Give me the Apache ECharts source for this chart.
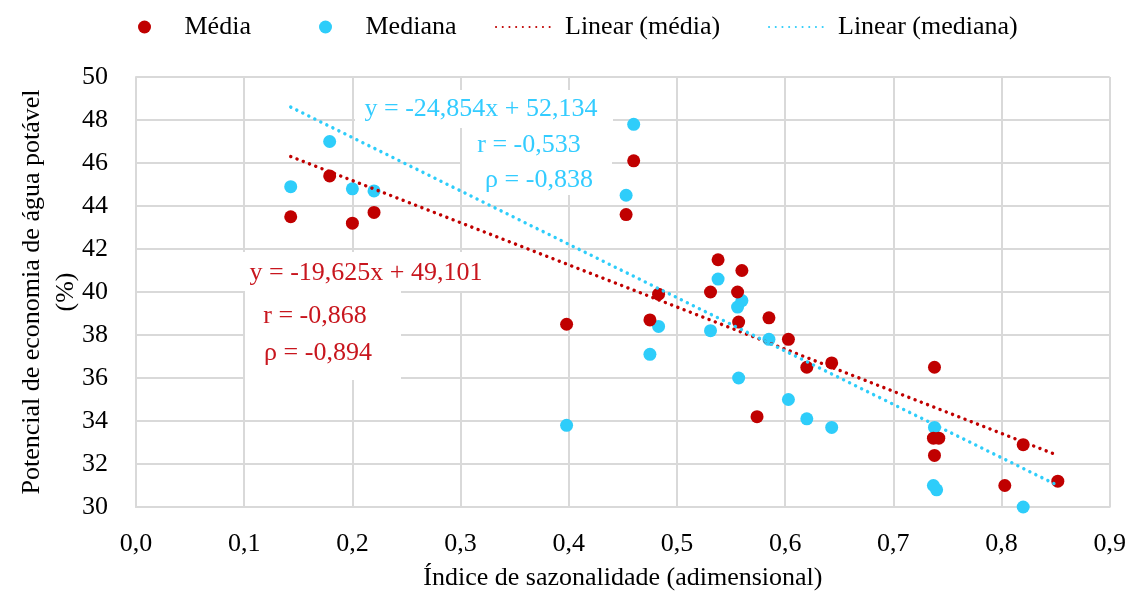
<!DOCTYPE html>
<html>
<head>
<meta charset="utf-8">
<script src="https://cdn.jsdelivr.net/npm/echarts@6/dist/echarts.min.js"></script>
<style>
  html, body { margin: 0; padding: 0; background: #fff; }
  #chart { width: 1129px; height: 596px; }
</style>
</head>
<body>
<div id="chart"></div>
<script>
// valores
const xMedia = [0.143, 0.179, 0.200, 0.220, 0.398, 0.453, 0.460, 0.475, 0.483, 0.531, 0.538, 0.556, 0.557,
  0.560, 0.574, 0.585, 0.603, 0.620, 0.643, 0.737, 0.738, 0.738, 0.742, 0.803, 0.820, 0.852]
const yMedia = [43.5, 45.4, 43.2, 43.7, 38.5, 43.6, 46.1, 38.7, 39.9, 40.0, 41.5, 40.0, 38.6,
  41.0, 34.2, 38.8, 37.8, 36.5, 36.7, 33.2, 36.5, 32.4, 33.2, 31.0, 32.9, 31.2]
const xMediana = [0.143, 0.179, 0.200, 0.220, 0.398, 0.453, 0.460, 0.475, 0.483, 0.531, 0.538, 0.556,
  0.557, 0.560, 0.585, 0.603, 0.620, 0.643, 0.737, 0.738, 0.740, 0.820]
const yMediana = [44.9, 47.0, 44.8, 44.7, 33.8, 44.5, 47.8, 37.1, 38.4, 38.2, 40.6, 39.3,
  36.0, 39.6, 37.8, 35.0, 34.1, 33.7, 31.0, 33.7, 30.8, 30.0]
const trendX = [0.143, 0.852]
const trendMedia = [46.3, 32.4]
const trendMediana = [48.6, 31.0]

const red = '#C00000'
const blue = '#2ECDFA'
const redText = '#C8161E'
const blueText = '#33CCFF'
const font = '"Liberation Serif", "Times New Roman", serif'

const pairs = (xs, ys) => xs.map((x, i) => [x, ys[i]])

const chart = echarts.init(document.getElementById('chart'))

function legendAt(left, name, isLine) {
  const lg = {
    left: left,
    top: 14,
    padding: 0,
    itemWidth: 58,
    itemHeight: isLine ? 14 : 13,
    data: [name],
    textStyle: {
      fontFamily: font,
      fontSize: 26,
      color: '#000',
      padding: [0, 0, 0, 6]
    }
  }
  if (isLine) lg.itemStyle = { opacity: 0 }
  return lg
}

function box(x, y, w, h) {
  return { type: 'rect', z: 1, shape: { x: x, y: y, width: w, height: h }, style: { fill: '#fff' } }
}

function label(x, y, text, color) {
  return {
    type: 'text', z: 100, x: x, y: y,
    style: {
      text: text, fill: color, font: '26px ' + font,
      align: 'center', verticalAlign: 'middle',
      textAlign: 'center', textVerticalAlign: 'middle'
    }
  }
}

chart.setOption({
  animation: false,
  grid: { left: 136, right: 19, top: 77, bottom: 88 },
  legend: [
    legendAt(138, 'Média', false),
    legendAt(319, 'Mediana', false),
    legendAt(495, 'Linear (média)', true),
    legendAt(768, 'Linear (mediana)', true)
  ],
  xAxis: {
    type: 'value',
    min: 0,
    max: 0.9,
    interval: 0.1,
    name: 'Índice de sazonalidade (adimensional)',
    nameLocation: 'middle',
    nameGap: 58,
    nameTextStyle: { fontFamily: font, fontSize: 26, color: '#000' },
    axisLine: { show: true, lineStyle: { color: '#D9D9D9', width: 2 } },
    axisTick: { show: false },
    axisLabel: {
      margin: 24,
      fontFamily: font,
      fontSize: 26,
      color: '#000',
      formatter: v => v.toFixed(1).replace('.', ',')
    },
    splitLine: { show: true, lineStyle: { color: '#D9D9D9', width: 2 } }
  },
  yAxis: {
    type: 'value',
    min: 30,
    max: 50,
    interval: 2,
    name: 'Potencial de economia de água potável\n(%)',
    nameLocation: 'middle',
    nameRotate: 90,
    nameGap: 53,
    nameMoveOverlap: false,
    nameTextStyle: { fontFamily: font, fontSize: 26, color: '#000', lineHeight: 34 },
    axisLine: { show: true, lineStyle: { color: '#D9D9D9', width: 2 } },
    axisTick: { show: false },
    axisLabel: { margin: 28, fontFamily: font, fontSize: 26, color: '#000' },
    splitLine: { show: true, lineStyle: { color: '#D9D9D9', width: 2 } }
  },
  graphic: [
    box(355, 90, 258, 38),
    box(462, 128, 150, 67),
    box(240, 252, 252, 39),
    box(245, 291, 156, 89),
    label(481, 109, 'y = -24,854x + 52,134', blueText),
    label(529, 145, 'r = -0,533', blueText),
    label(539, 180, 'ρ = -0,838', blueText),
    label(366, 273, 'y = -19,625x + 49,101', redText),
    label(315, 316, 'r = -0,868', redText),
    label(318, 353, 'ρ = -0,894', redText)
  ],
  series: [
    {
      name: 'Mediana',
      type: 'scatter',
      symbolSize: 13,
      clip: false,
      z: 3,
      itemStyle: { color: blue, opacity: 1 },
      data: pairs(xMediana, yMediana)
    },
    {
      name: 'Média',
      type: 'scatter',
      symbolSize: 13,
      clip: false,
      z: 4,
      itemStyle: { color: red, opacity: 1 },
      data: pairs(xMedia, yMedia)
    },
    {
      name: 'Linear (média)',
      type: 'line',
      symbol: 'none',
      z: 5,
      itemStyle: { color: red },
      lineStyle: { color: red, width: 3.4, type: [0.1, 6.6], cap: 'round' },
      data: pairs(trendX, trendMedia)
    },
    {
      name: 'Linear (mediana)',
      type: 'line',
      symbol: 'none',
      z: 5,
      itemStyle: { color: blue },
      lineStyle: { color: blue, width: 3.4, type: [0.1, 6.6], cap: 'round' },
      data: pairs(trendX, trendMediana)
    }
  ]
})
</script>
</body>
</html>
